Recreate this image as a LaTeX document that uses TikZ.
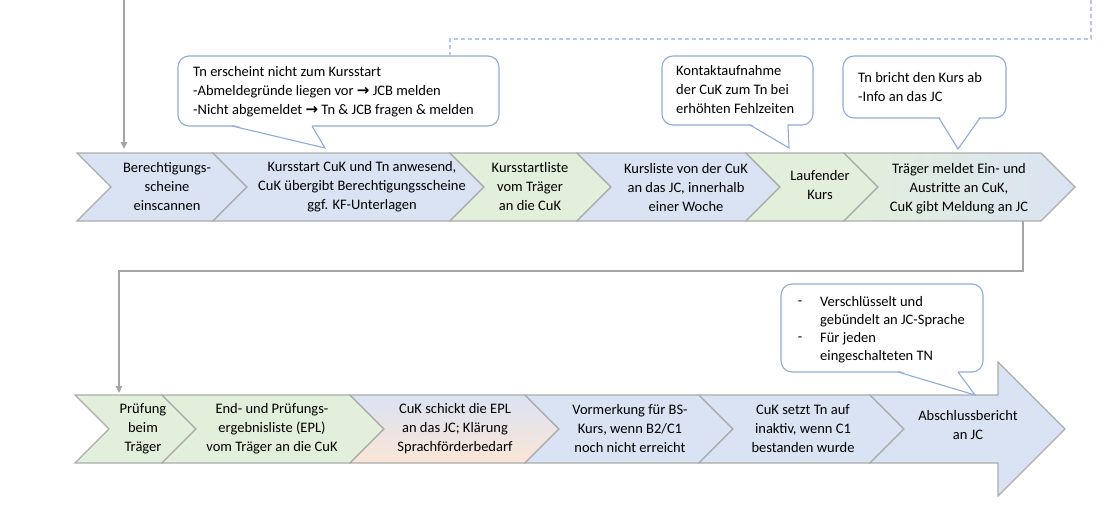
\documentclass[tikz,border=0pt]{standalone}
\usepackage{fontspec}
\setmainfont{Carlito}
\newfontfamily\arrowfont{DejaVu Sans}
\usetikzlibrary{arrows.meta}
\definecolor{cblue}{RGB}{218,227,243}
\definecolor{cgreen}{RGB}{226,239,218}
\definecolor{cpeach}{RGB}{251,229,214}
\definecolor{cborder}{RGB}{172,172,172}
\definecolor{cline}{RGB}{165,165,165}
\definecolor{callblue}{RGB}{143,170,220}
\definecolor{cdash}{RGB}{180,199,231}
\newcommand\mychev[5]{%
  \path[chev,#5] (#1,#3) -- (#2,#3) -- ({#2+34},{(#3+#4)/2}) -- (#2,#4) -- (#1,#4) -- ({#1+34},{(#3+#4)/2}) -- cycle;}
\newcommand\mycall[8]{%
  \draw[callout, rounded corners=11pt] (#1,#2) rectangle (#3,#4);
  \fill[white] ({#5+0.6},{#4-1.3}) -- (#7,#8) -- ({#6-0.6},{#4-1.3}) -- cycle;
  \draw[callout, fill=none, line join=miter] (#5,#4) -- (#7,#8) -- (#6,#4);}
\newcommand\myarrow{{\arrowfont\bfseries\fontsize{15}{19}\selectfont →}}
\begin{document}
\begin{tikzpicture}[x=1pt,y=-1pt,
  chev/.style={draw=cborder, line width=1.1pt, line join=miter},
  lbl/.style={align=center, font=\fontsize{14.5}{19}\selectfont, inner sep=0pt, text=black},
  ctext/.style={align=left, font=\fontsize{14.5}{19}\selectfont, inner sep=0pt, anchor=west, text=black},
  callout/.style={draw=callblue, line width=1.1pt, fill=white},
  conn/.style={draw=cline, line width=1.1pt},
  arr/.style={-{Triangle[width=6.5pt,length=7pt]}},
  dashline/.style={draw=cdash, line width=1.4pt, dash pattern=on 4pt off 3pt}
]
\useasboundingbox (0,0) rectangle (1119,522);

% connectors
\coordinate (topin) at (124,0);
\coordinate (c1in) at (124,153);
\draw[conn,arr,shorten >=4pt] (topin) -- (c1in);
\coordinate (t6out) at (1023,221);
\coordinate (turn) at (119,271);
\coordinate (b1in) at (119,395);
\draw[conn,arr,shorten >=2pt] (t6out) |- (turn) -- (b1in);

% top row
\mychev{77}{213}{153}{221}{fill=cblue}
\mychev{213}{450}{153}{221}{fill=cblue}
\mychev{450}{577}{153}{221}{fill=cgreen}
\mychev{577}{746}{153}{221}{fill=cblue}
\mychev{746}{844}{153}{221}{fill=cgreen}
\mychev{844}{1041}{153}{221}{left color=cgreen,right color=cblue}

% bottom row
\mychev{75}{162}{395}{463}{fill=cgreen}
\mychev{162}{350}{395}{463}{fill=cgreen}
\mychev{350}{525}{395}{463}{top color=cblue,bottom color=cpeach}
\mychev{525}{699}{395}{463}{fill=cblue}
\mychev{699}{870}{395}{463}{fill=cblue}
\path[chev,fill=cblue] (870,395) -- (998,395) -- (998,362) -- (1065,429) -- (998,496) -- (998,463) -- (870,463) -- (904,429) -- cycle;

% labels top
\node[lbl] (t1) at (167,187) {Berechtigungs-\\scheine\\einscannen};
\node[lbl] (t2) at (362,187) {Kursstart CuK und Tn anwesend,\\CuK übergibt Berechtigungsscheine\\ggf. KF-Unterlagen};
\node[lbl] (t3) at (530,187) {Kursstartliste\\vom Träger\\an die CuK};
\node[lbl] (t4) at (686,188) {Kursliste von der CuK\\an das JC, innerhalb\\einer Woche};
\node[lbl] (t5) at (820,185) {Laufender\\Kurs};
\node[lbl] (t6) at (959,189) {Träger meldet Ein- und\\Austritte an CuK,\\CuK gibt Meldung an JC};

% labels bottom
\node[lbl] (b1) at (143,429) {Prüfung\\beim\\Träger};
\node[lbl] (b2) at (272,429) {End- und Prüfungs-\\ergebnisliste (EPL)\\vom Träger an die CuK};
\node[lbl] (b3) at (455,429) {CuK schickt die EPL\\an das JC; Klärung\\Sprachförderbedarf};
\node[lbl] (b4) at (630,429) {Vormerkung für BS-\\Kurs, wenn B2/C1\\noch nicht erreicht};
\node[lbl] (b5) at (803,429) {CuK setzt Tn auf\\inaktiv, wenn C1\\bestanden wurde};
\node[lbl] (b6) at (968,425) {Abschlussbericht\\an JC};

% callouts
\mycall{178}{56}{499}{126}{232}{312}{325}{148}
\mycall{662}{56}{813}{125}{750}{788}{789}{148}
\mycall{843}{56}{1006}{118}{939}{980}{958}{149}
\mycall{781}{284}{983}{372}{898}{958}{975}{395}

\node[ctext] (k1) at (193,91.5) {Tn erscheint nicht zum Kursstart\\-Abmeldegründe liegen vor \myarrow{} JCB melden\\-Nicht abgemeldet \myarrow{} Tn \& JCB fragen \& melden};
\node[ctext] (k2) at (676,90) {Kontaktaufnahme\\der CuK zum Tn bei\\erhöhten Fehlzeiten};
\node[ctext] (k3) at (858,87.5) {Tn bricht den Kurs ab\\-Info an das JC};
\node[ctext, font=\fontsize{14.5}{18}\selectfont] (k4) at (820,330) {Verschlüsselt und\\gebündelt an JC-Sprache\\Für jeden\\eingeschalteten TN};
\node[lbl] (k4d1) at (800,303) {-};
\node[lbl] (k4d2) at (800,339) {-};

% dashed link
\coordinate (c1top) at (450,56);
\coordinate (dashcorner) at (1091,39);
\coordinate (dashend) at (1091,0);
\draw[dashline] (c1top) |- (dashcorner) -- (dashend);
\end{tikzpicture}
\end{document}
